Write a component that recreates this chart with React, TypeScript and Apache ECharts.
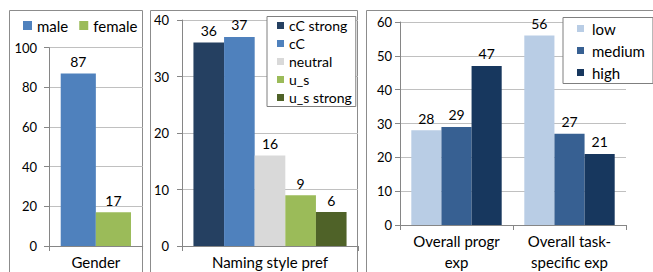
import React, { useEffect, useRef } from "react";
import * as echarts from "echarts";

const genderCats = ["Gender"];
const male = [87];
const female = [17];

const namingCats = ["Naming style pref"];
const namingNames = ["cC strong", "cC", "neutral", "u_s", "u_s strong"];
const namingValues = [36, 37, 16, 9, 6];

const expCats = ["Overall progr\nexp", "Overall task-\nspecific exp"];
const expLow = [28, 56];
const expMedium = [29, 27];
const expHigh = [47, 21];

const FONT = "Lato, 'Open Sans', sans-serif";
const AXIS = "#868686";
const GRIDLINE = "#C0C0C0";

export default function App() {
  const ref = useRef<HTMLDivElement>(null);
  useEffect(() => {
    document.body.style.margin = "0";
    const chart = echarts.init(ref.current!, null, { renderer: "svg" });
    const label = {
      show: true,
      position: "top" as const,
      distance: 5,
      fontSize: 14,
      color: "#000",
      fontFamily: FONT,
    };
    const yAxisBase = (max: number, interval: number, margin: number, idx: number) => ({
      type: "value",
      gridIndex: idx,
      min: 0,
      max,
      interval,
      axisLine: { show: true, lineStyle: { color: AXIS } },
      axisTick: { show: true, length: 5, lineStyle: { color: AXIS } },
      axisLabel: { fontSize: 13, color: "#000", fontFamily: FONT, margin },
      splitLine: { show: true, lineStyle: { color: GRIDLINE } },
    });
    const xAxisBase = (data: string[], idx: number) => ({
      type: "category",
      gridIndex: idx,
      data,
      axisLine: { show: true, lineStyle: { color: AXIS } },
      axisTick: { show: true, length: 5, lineStyle: { color: AXIS } },
      axisLabel: {
        fontSize: 15,
        color: "#000",
        fontFamily: FONT,
        margin: 5,
        lineHeight: 21,
        interval: 0,
      },
    });
    const namingColors = ["#254061", "#4F81BD", "#D9D9D9", "#9BBB59", "#4F6228"];
    const expColors = ["#B9CDE5", "#376092", "#17375E"];
    const expNames = ["low", "medium", "high"];
    const expData = [expLow, expMedium, expHigh];

    chart.setOption({
      animation: false,
      textStyle: { fontFamily: FONT },
      grid: [
        { left: 49, top: 47.7, width: 93.7, height: 199.3 },
        { left: 182, top: 20, width: 176, height: 227 },
        { left: 400, top: 22, width: 226, height: 205 },
      ],
      xAxis: [xAxisBase(genderCats, 0), xAxisBase(namingCats, 1), xAxisBase(expCats, 2)],
      yAxis: [yAxisBase(100, 20, 12, 0), yAxisBase(40, 10, 13, 1), yAxisBase(60, 10, 8, 2)],
      legend: [
        {
          data: ["male", "female"],
          left: 23,
          top: 16.5,
          padding: 0,
          itemWidth: 9,
          itemHeight: 9,
          itemGap: 11,
          icon: "rect",
          textStyle: { fontSize: 15, color: "#000", fontFamily: FONT, lineHeight: 18 },
        },
        {
          data: namingNames,
          orient: "vertical",
          left: 267,
          top: 16.5,
          padding: [2, 4, 2, 10],
          itemWidth: 7,
          itemHeight: 7,
          itemGap: 4,
          icon: "rect",
          borderColor: "#7F7F7F",
          borderWidth: 1,
          backgroundColor: "#fff",
          textStyle: { fontSize: 14, color: "#000", fontFamily: FONT, lineHeight: 14 },
        },
        {
          data: expNames,
          orient: "vertical",
          left: 563,
          top: 17.5,
          padding: [3, 8, 3, 14],
          itemWidth: 7,
          itemHeight: 7,
          itemGap: 6,
          icon: "rect",
          borderColor: "#7F7F7F",
          borderWidth: 1,
          backgroundColor: "#fff",
          textStyle: {
            fontSize: 15,
            color: "#000",
            fontFamily: FONT,
            lineHeight: 16,
            padding: [0, 0, 0, 3],
          },
        },
      ],
      series: [
        {
          name: "male",
          type: "bar",
          xAxisIndex: 0,
          yAxisIndex: 0,
          data: male,
          itemStyle: { color: "#4F81BD" },
          barGap: "0%",
          barCategoryGap: "25%",
          label,
        },
        {
          name: "female",
          type: "bar",
          xAxisIndex: 0,
          yAxisIndex: 0,
          data: female,
          itemStyle: { color: "#9BBB59" },
          barGap: "0%",
          barCategoryGap: "25%",
          label,
        },
        ...namingNames.map((n, i) => ({
          name: n,
          type: "bar",
          xAxisIndex: 1,
          yAxisIndex: 1,
          data: [namingValues[i]],
          itemStyle: { color: namingColors[i] },
          barGap: "0%",
          barCategoryGap: "13%",
          label,
        })),
        ...expNames.map((n, i) => ({
          name: n,
          type: "bar",
          xAxisIndex: 2,
          yAxisIndex: 2,
          data: expData[i],
          itemStyle: { color: expColors[i] },
          barGap: "0%",
          barCategoryGap: "20%",
          label,
        })),
      ],
      graphic: [
        {
          type: "rect",
          shape: { x: 9.5, y: 10.5, width: 133, height: 280 },
          style: { fill: "none", stroke: "#8C8C8C", lineWidth: 1 },
          silent: true,
        },
        {
          type: "rect",
          shape: { x: 150.5, y: 10.5, width: 207, height: 280 },
          style: { fill: "none", stroke: "#8C8C8C", lineWidth: 1 },
          silent: true,
        },
        {
          type: "rect",
          shape: { x: 366.5, y: 10.5, width: 320, height: 280 },
          style: { fill: "none", stroke: "#8C8C8C", lineWidth: 1 },
          silent: true,
        },
      ],
    });
    return () => chart.dispose();
  }, []);
  return <div ref={ref} style={{ width: 653, height: 272 }} />;
}
